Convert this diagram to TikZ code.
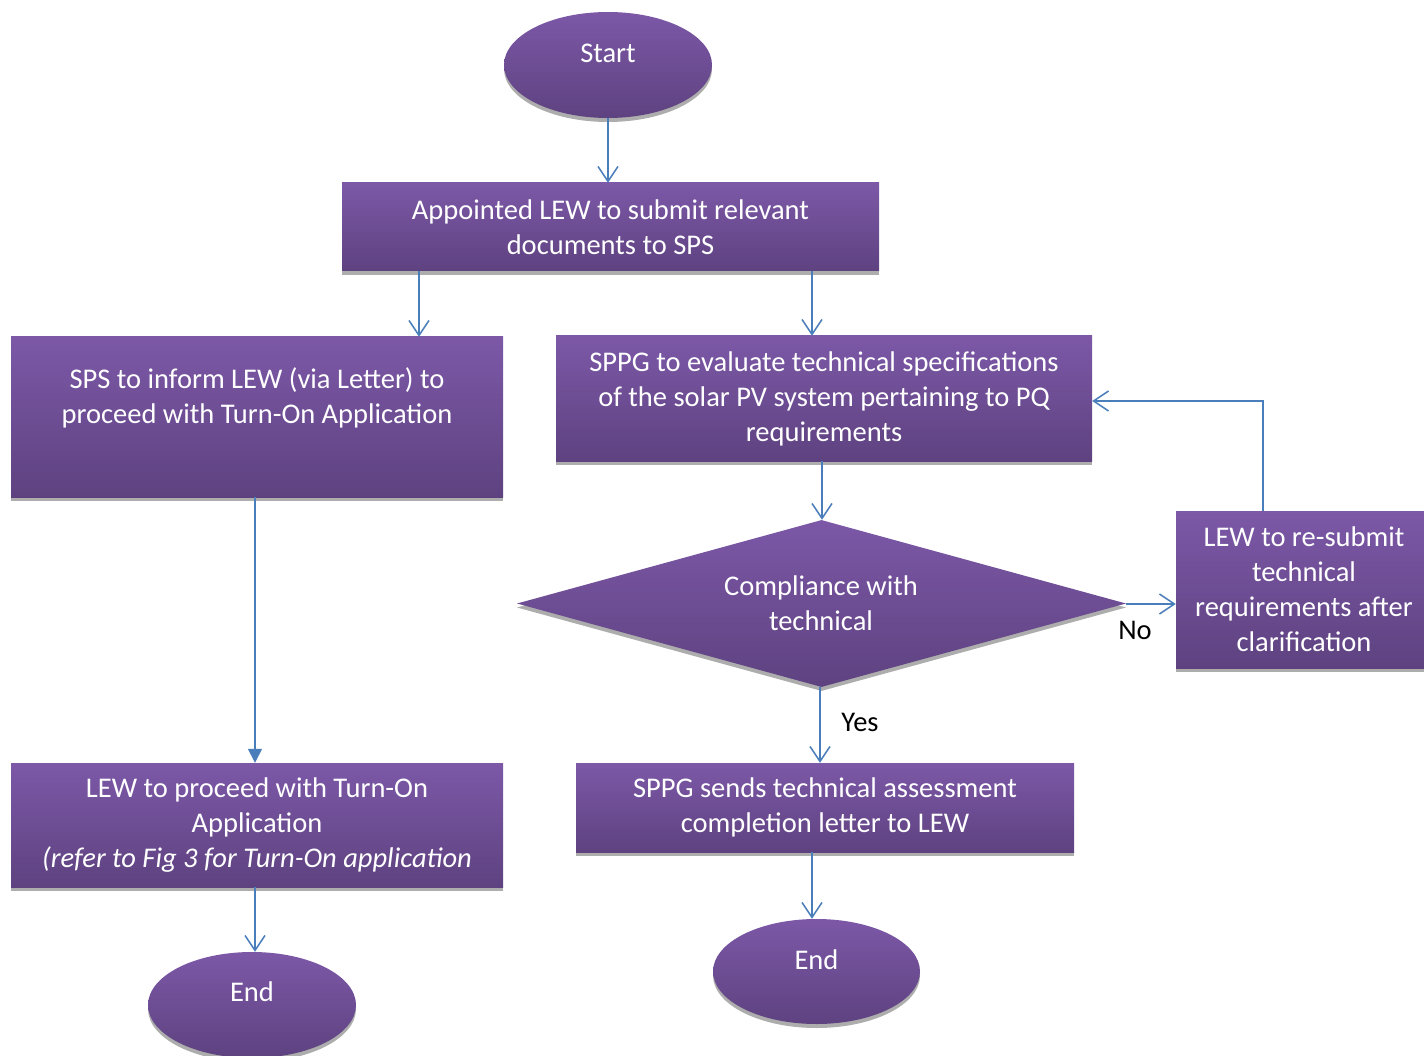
\documentclass[tikz,border=0pt]{standalone}
\usepackage{fontspec}
\setmainfont{Carlito}
\usetikzlibrary{arrows.meta,shapes.geometric,shadows}
\definecolor{ptop}{HTML}{7C58A7}
\definecolor{pbot}{HTML}{5E4280}
\definecolor{arr}{HTML}{4A7EBB}
\begin{document}
\begin{tikzpicture}[x=1pt,y=-1pt,
  shape base/.style={top color=ptop, bottom color=pbot, draw=none,
    general shadow={fill=black!32, shadow yshift=-4pt},
    inner sep=0pt, text=white, align=center,
    font=\fontsize{28.5}{35}\selectfont},
  box/.style={shape base, rectangle},
  oval/.style={shape base, ellipse},
  decision/.style={shape base, diamond},
  txt/.style={text=white, align=center, font=\fontsize{28.5}{35}\selectfont, inner sep=0pt},
  lbl/.style={text=black, font=\fontsize{28.5}{35}\selectfont, inner sep=0pt},
  conn/.style={draw=arr, line width=1.5pt, -{Straight Barb[length=15pt,width=20pt,line width=1.5pt]}},
  connf/.style={draw=arr, line width=1.5pt, -{Triangle[length=14pt,width=14pt]}}
]
\useasboundingbox (0,0) rectangle (1424,1056);

\node[oval, minimum width=208pt, minimum height=106pt] (start) at (608,65) {};
\node[txt] (startT) at (608,53) {Start};

\node[box, minimum width=537pt, minimum height=88pt] (b1) at (610.5,227)
  {Appointed LEW to submit relevant\\documents to SPS};

\node[box, minimum width=492pt, minimum height=160pt] (b2) at (257,417) {};
\node[txt] (b2T) at (257,398) {SPS to inform LEW (via Letter) to\\proceed with Turn-On Application};

\node[box, minimum width=536pt, minimum height=125pt] (b3) at (824,398.5)
  {SPPG to evaluate technical specifications\\of the solar PV system pertaining to PQ\\requirements};

\node[decision, minimum width=609pt, minimum height=167pt] (d) at (821.5,603.5) {};
\node[txt] (dT) at (821,603.5) {Compliance with\\technical};

\node[box, minimum width=256pt, minimum height=157pt] (b4) at (1304,589.5)
  {LEW to re-submit\\technical\\requirements after\\clarification};

\node[box, minimum width=492pt, minimum height=124pt] (b5) at (257,825)
  {LEW to proceed with Turn-On\\Application\\\textit{(refer to Fig 3 for Turn-On application}};

\node[box, minimum width=498pt, minimum height=89pt] (b6) at (825,807.5)
  {SPPG sends technical assessment\\completion letter to LEW};

\node[oval, minimum width=208pt, minimum height=106pt] (end1) at (252,1005) {};
\node[txt] (end1T) at (252,992) {End};

\node[oval, minimum width=207pt, minimum height=105pt] (end2) at (816.5,971.5) {};
\node[txt] (end2T) at (816.5,960) {End};

\node[lbl] (yes) at (860,722) {Yes};
\node[lbl] (no) at (1135,630) {No};

\coordinate (c1) at (419,0);
\coordinate (c2) at (812,0);
\coordinate (c3) at (255,0);
\coordinate (c4) at (822,0);
\coordinate (c5) at (820,0);
\coordinate (c6) at (1263,0);
\coordinate (c7) at (0,401);
\coordinate (c8) at (0,604);
\coordinate (c9) at (812,0);

\draw[conn] (start.south) -- (start.south |- b1.north);
\draw[conn] (c1 |- b1.south) -- (c1 |- b2.north);
\draw[conn] (c2 |- b1.south) -- (c2 |- b3.north);
\draw[connf] (c3 |- b2.south) -- (c3 |- b5.north);
\draw[conn] (c4 |- b3.south) -- (c4 |- d.north);
\draw[conn] (d.east |- c8) -- (b4.west |- c8);
\draw[conn] (c6 |- b4.north) -- (c6 |- c7) -- (b3.east |- c7);
\draw[conn] (c5 |- d.south) -- (c5 |- b6.north);
\draw[conn] (c3 |- b5.south) -- (c3 |- end1.north);
\draw[conn] (c9 |- b6.south) -- (c9 |- end2.north);
\end{tikzpicture}
\end{document}
